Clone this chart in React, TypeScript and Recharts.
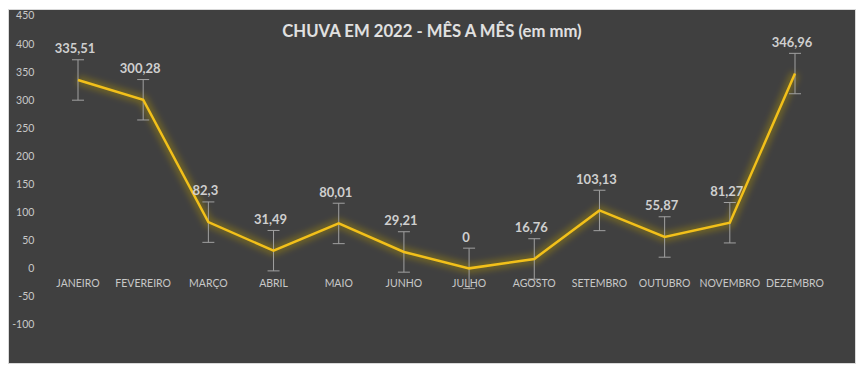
import { LineChart, Line, XAxis, YAxis, ErrorBar, LabelList } from "recharts";

const months = [
  "JANEIRO",
  "FEVEREIRO",
  "MARÇO",
  "ABRIL",
  "MAIO",
  "JUNHO",
  "JULHO",
  "AGOSTO",
  "SETEMBRO",
  "OUTUBRO",
  "NOVEMBRO",
  "DEZEMBRO",
];
const rain = [335.51, 300.28, 82.3, 31.49, 80.01, 29.21, 0, 16.76, 103.13, 55.87, 81.27, 346.96];
const errors = [36, 36, 36, 36, 36, 36, 36, 36, 36, 36, 36, 36];
const yTicks = [-100, -50, 0, 50, 100, 150, 200, 250, 300, 350, 400, 450];

const data = months.map((m, i) => ({ month: m, chuva: rain[i], err: errors[i] }));

const FONT = "Lato, 'Open Sans', sans-serif";

function MonthTick(props: any) {
  const { x, y, payload } = props;
  return (
    <text x={x} y={y - 40} textAnchor="middle" dominantBaseline="middle" fill="#c8c8c8" fontSize={10.5} fontFamily={FONT}>
      {payload.value}
    </text>
  );
}

function ValueLabel(props: any) {
  const { x, y, value } = props;
  return (
    <text x={x - 3} y={y - 30} textAnchor="middle" dominantBaseline="middle" fill="#cfcfcf" fontSize={13} fontWeight={700} fontFamily={FONT}>
      {String(value).replace(".", ",")}
    </text>
  );
}

export default function App() {
  return (
    <div
      style={{
        position: "relative",
        width: 846,
        height: 353,
        marginTop: 1,
        border: "1px solid #d9d9d9",
        background: "#404040",
      }}
    >
      <div
        style={{
          position: "absolute",
          left: 0,
          right: 0,
          top: 11,
          textAlign: "center",
          color: "#e0e0e0",
          fontFamily: FONT,
          fontWeight: 700,
          fontSize: 16.7,
        }}
      >
        CHUVA EM 2022 - MÊS A MÊS (em mm)
      </div>
      <LineChart width={846} height={353} data={data} margin={{ top: 5.7, right: 27.4, bottom: 37.5, left: 0 }}>
        <defs>
          <filter id="glow" x="-20%" y="-20%" width="140%" height="140%">
            <feGaussianBlur stdDeviation="3" />
          </filter>
        </defs>
        <XAxis
          dataKey="month"
          axisLine={false}
          tickLine={false}
          tickSize={0}
          tickMargin={0}
          height={1}
          padding={{ left: 32.6, right: 32.6 }}
          interval={0}
          tick={<MonthTick />}
        />
        <YAxis
          width={36.4}
          domain={[-100, 450]}
          ticks={yTicks}
          axisLine={false}
          tickLine={false}
          tickSize={0}
          tickMargin={11}
          interval={0}
          tick={{ fill: "#c8c8c8", fontSize: 10.5, fontFamily: FONT }}
        />
        <Line
          dataKey="chuva"
          stroke="#b89a00"
          strokeWidth={9}
          strokeOpacity={0.4}
          filter="url(#glow)"
          dot={false}
          activeDot={false}
          isAnimationActive={false}
        />
        <Line
          dataKey="chuva"
          stroke="#f2c01a"
          strokeWidth={2.5}
          dot={false}
          activeDot={false}
          isAnimationActive={false}
        >
          <ErrorBar dataKey="err" direction="y" width={6} stroke="#a0a0a0" strokeWidth={1} />
          <LabelList dataKey="chuva" content={<ValueLabel />} />
        </Line>
      </LineChart>
    </div>
  );
}
